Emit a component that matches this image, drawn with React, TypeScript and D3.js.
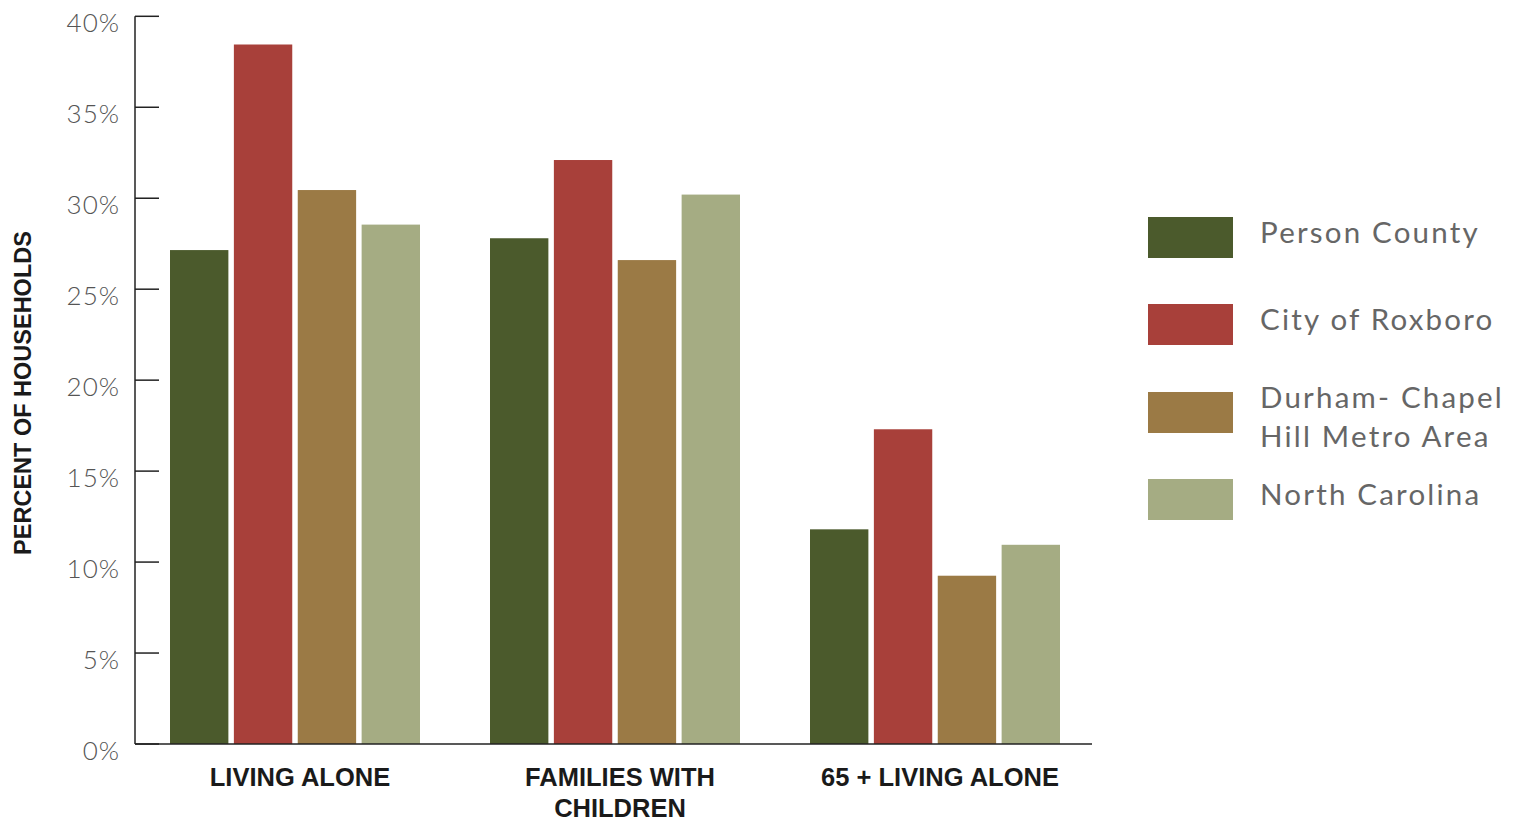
import React from "react";
import * as d3 from "d3";

const categories = ["LIVING ALONE", "FAMILIES WITH|CHILDREN", "65 + LIVING ALONE"];
const seriesNames = ["Person County", "City of Roxboro", "Durham- Chapel|Hill Metro Area", "North Carolina"];
const seriesColors = ["#4b5a2c", "#a8403a", "#9b7a45", "#a5ac83"];
const personCounty = [27.15, 27.8, 11.8];
const cityOfRoxboro = [38.45, 32.1, 17.3];
const durhamChapelHill = [30.45, 26.6, 9.25];
const northCarolina = [28.55, 30.2, 10.95];
const yTicks = [0, 5, 10, 15, 20, 25, 30, 35, 40];

const W = 1523;
const H = 821;

export default function App() {
  const seriesValues = [personCounty, cityOfRoxboro, durhamChapelHill, northCarolina];
  const x0 = d3.scaleBand<number>().domain(d3.range(categories.length)).range([135, 1095]).paddingInner(0.21875).paddingOuter(0.109375);
  const x1 = d3.scaleBand<number>().domain(d3.range(seriesNames.length)).range([0, x0.bandwidth()]).paddingInner(0.086).paddingOuter(0);
  const y = d3.scaleLinear().domain([0, 40]).range([744, 16.3]);

  const axisFont = "'Liberation Sans', 'DejaVu Sans', sans-serif";
  const lightFont = "'Lato', 'Open Sans', sans-serif";

  return (
    <svg width={W} height={H} style={{ position: "absolute", left: 0, top: 0, background: "#fff" }}>
      {/* bars */}
      {categories.map((c, ci) => (
        <g key={c} transform={`translate(${x0(ci)},0)`}>
          {seriesValues.map((vals, si) => (
            <rect
              key={si}
              x={x1(si)}
              y={y(vals[ci])}
              width={x1.bandwidth()}
              height={y(0) - y(vals[ci])}
              fill={seriesColors[si]}
            />
          ))}
        </g>
      ))}
      {/* y axis */}
      <line x1={135} x2={135} y1={y(40)} y2={y(0)} stroke="#222" strokeWidth={1.5} />
      {yTicks.map((t) => (
        <g key={t}>
          <line x1={135} x2={159} y1={y(t)} y2={y(t)} stroke="#222" strokeWidth={1.5} />
          <text x={120} y={y(t) + 16} textAnchor="end" fontSize={26} fill="#555" fontFamily={lightFont} fontWeight={300} letterSpacing={1}>
            {t}%
          </text>
        </g>
      ))}
      {/* x axis */}
      <line x1={135} x2={1092} y1={y(0)} y2={y(0)} stroke="#222" strokeWidth={1.5} />
      {categories.map((c, ci) => {
        const cx = (x0(ci) as number) + x0.bandwidth() / 2 + 5;
        return (
          <text key={c} x={cx} y={786} textAnchor="middle" fontSize={25.5} fontWeight={700} fill="#1a1a1a" fontFamily={axisFont}>
            {c.split("|").map((line, li) => (
              <tspan key={li} x={cx} dy={li === 0 ? 0 : 31}>
                {line}
              </tspan>
            ))}
          </text>
        );
      })}
      {/* y axis title */}
      <text
        transform={`translate(31,393) rotate(-90)`}
        textAnchor="middle"
        fontSize={23.5}
        fontWeight={700}
        fill="#1a1a1a"
        fontFamily={axisFont}
      >
        PERCENT OF HOUSEHOLDS
      </text>
      {/* legend */}
      {seriesNames.map((name, si) => {
        const top = [217, 304, 392, 479][si];
        const lines = name.split("|");
        const baselines = lines.length === 1 ? [top + 26] : [top + 16, top + 55];
        return (
          <g key={name}>
            <rect x={1148} y={top} width={85} height={41} fill={seriesColors[si]} />
            {lines.map((l, li) => (
              <text key={li} x={1260} y={baselines[li]} fontSize={29.5} fill="#666" fontFamily={lightFont} letterSpacing={2.2}>
                {l}
              </text>
            ))}
          </g>
        );
      })}
    </svg>
  );
}
